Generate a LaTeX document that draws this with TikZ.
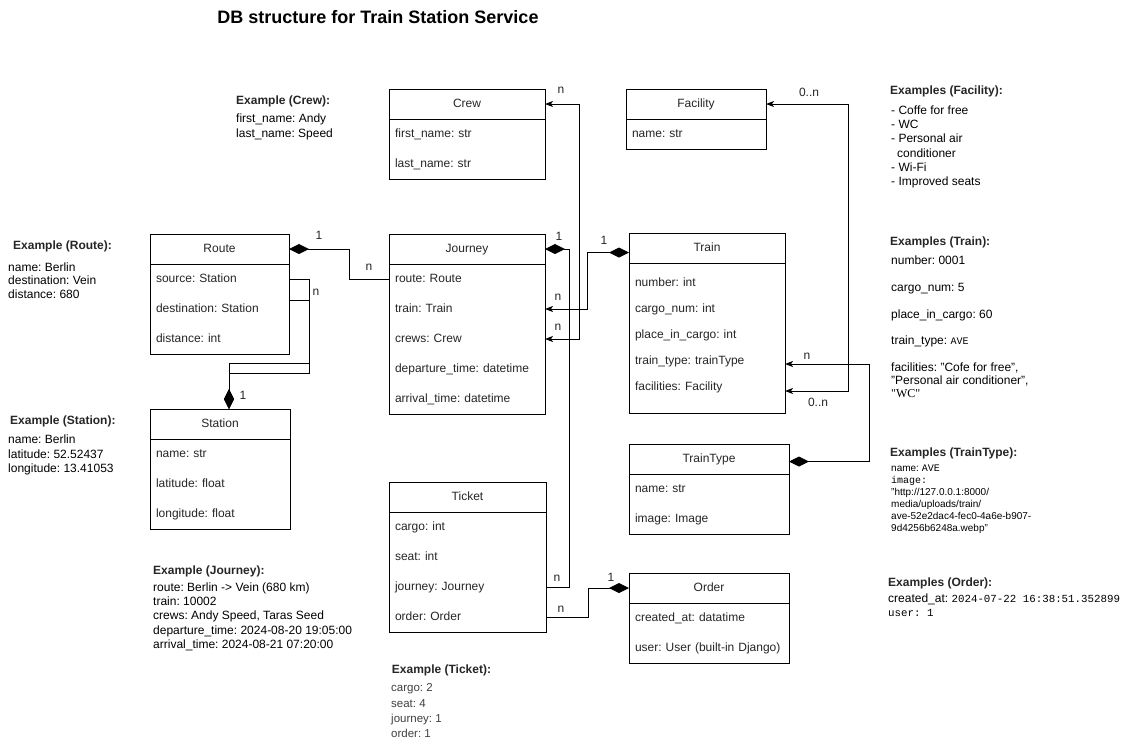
\documentclass[tikz,border=0pt]{standalone}
\usepackage{fontspec}
\setmainfont{Liberation Sans}
\setmonofont{Liberation Mono}
\newfontfamily\quotefont{Liberation Serif}
\frenchspacing
\usetikzlibrary{arrows.meta,positioning}
\tikzset{%
	entity/.style   = {draw, rectangle, line width=1pt, anchor=north west, inner sep=0pt, outer sep=0pt}, % class outline
	header/.style   = {draw, rectangle, line width=1pt, anchor=north, minimum height=30pt, outer sep=0pt, text height=8.6pt, text depth=2.5pt, text=black!85}, % class name
	field/.style    = {rectangle, minimum height=30pt, inner xsep=6pt, inner ysep=0pt, outer sep=0pt, align=left, text height=8.6pt, text depth=2.5pt, text=black!85}, % attribute
	lbl/.style      = {inner sep=0pt, text height=8.6pt, text depth=2.5pt, text=black!85}, % multiplicity
	notehead/.style = {anchor=west, inner sep=0pt, font=\fontsize{12}{14.4}\selectfont\bfseries, text=black!85},
	notebody/.style = {anchor=north west, inner sep=0pt, align=left},
	link/.style     = {line width=1pt},
	dia/.tip        = {Diamond[length=20pt,width=10pt]},
}

\begin{document}
\begin{tikzpicture}[x=1pt,y=-1pt,font=\fontsize{12}{14.4}\selectfont,>={Stealth[length=8pt,width=6pt,inset=2pt]}]
	\path[use as bounding box, fill=white] (0,0) rectangle (1129,745);
	\node[font=\fontsize{18}{21}\selectfont\bfseries] (title) at (378,17) {DB structure for Train Station Service};

	% Crew
	\node[entity, minimum width=156pt, minimum height=90pt] (crew) at (389,89) {};
	\node[header, minimum width=156pt] (crew-h) at (crew.north) {Crew};
	\node[field, text width=144pt, below=0pt of crew-h] (crew-first) {first\_name: str};
	\node[field, text width=144pt, below=0pt of crew-first] (crew-last) {last\_name: str};

	% Facility
	\node[entity, minimum width=140pt, minimum height=60pt] (facility) at (626,89) {};
	\node[header, minimum width=140pt] (facility-h) at (facility.north) {Facility};
	\node[field, text width=128pt, below=0pt of facility-h] (facility-name) {name: str};

	% Route
	\node[entity, minimum width=139pt, minimum height=120pt] (route) at (150,234) {};
	\node[header, minimum width=139pt] (route-h) at (route.north) {Route};
	\node[field, text width=127pt, below=0pt of route-h] (route-source) {source: Station};
	\node[field, text width=127pt, below=0pt of route-source] (route-dest) {destination: Station};
	\node[field, text width=127pt, below=0pt of route-dest] (route-dist) {distance: int};

	% Station
	\node[entity, minimum width=140pt, minimum height=120pt] (station) at (150,409) {};
	\node[header, minimum width=140pt] (station-h) at (station.north) {Station};
	\node[field, text width=128pt, below=0pt of station-h] (station-name) {name: str};
	\node[field, text width=128pt, below=0pt of station-name] (station-lat) {latitude: float};
	\node[field, text width=128pt, below=0pt of station-lat] (station-lon) {longitude: float};

	% Journey
	\node[entity, minimum width=156pt, minimum height=180pt] (journey) at (389,234) {};
	\node[header, minimum width=156pt] (journey-h) at (journey.north) {Journey};
	\node[field, text width=144pt, below=0pt of journey-h] (journey-route) {route: Route};
	\node[field, text width=144pt, below=0pt of journey-route] (journey-train) {train: Train};
	\node[field, text width=144pt, below=0pt of journey-train] (journey-crews) {crews: Crew};
	\node[field, text width=144pt, below=0pt of journey-crews] (journey-dep) {departure\_time: datetime};
	\node[field, text width=144pt, below=0pt of journey-dep] (journey-arr) {arrival\_time: datetime};

	% Train
	\node[entity, minimum width=156pt, minimum height=180pt] (train) at (629,233) {};
	\node[header, minimum width=156pt] (train-h) at (train.north) {Train};
	\node[field, text width=144pt, minimum height=26pt, below=7pt of train-h] (train-num) {number: int};
	\node[field, text width=144pt, minimum height=26pt, below=0pt of train-num] (train-cargo) {cargo\_num: int};
	\node[field, text width=144pt, minimum height=26pt, below=0pt of train-cargo] (train-place) {place\_in\_cargo: int};
	\node[field, text width=144pt, minimum height=26pt, below=0pt of train-place] (train-type) {train\_type: trainType};
	\node[field, text width=144pt, minimum height=26pt, below=0pt of train-type] (train-fac) {facilities: Facility};

	% Ticket
	\node[entity, minimum width=157pt, minimum height=150pt] (ticket) at (389,482) {};
	\node[header, minimum width=157pt] (ticket-h) at (ticket.north) {Ticket};
	\node[field, text width=145pt, below=0pt of ticket-h] (ticket-cargo) {cargo: int};
	\node[field, text width=145pt, below=0pt of ticket-cargo] (ticket-seat) {seat: int};
	\node[field, text width=145pt, below=0pt of ticket-seat] (ticket-journey) {journey: Journey};
	\node[field, text width=145pt, below=0pt of ticket-journey] (ticket-order) {order: Order};

	% TrainType
	\node[entity, minimum width=160pt, minimum height=90pt] (traintype) at (629,444) {};
	\node[header, minimum width=160pt] (traintype-h) at (traintype.north) {TrainType};
	\node[field, text width=148pt, below=0pt of traintype-h] (traintype-name) {name: str};
	\node[field, text width=148pt, below=0pt of traintype-name] (traintype-img) {image: Image};

	% Order
	\node[entity, minimum width=160pt, minimum height=90pt] (order) at (629,573) {};
	\node[header, minimum width=160pt] (order-h) at (order.north) {Order};
	\node[field, text width=148pt, below=0pt of order-h] (order-created) {created\_at: datatime};
	\node[field, text width=148pt, below=0pt of order-created] (order-user) {user: User (built-in Django)};

	% relations
	\draw[link, -dia] (journey-route.west) node[lbl, xshift=-20pt, yshift=12pt] {n} -- ++(-40,0) |- (route-h.east) node[lbl, xshift=30pt, yshift=13pt] {1};
	\draw[link, -dia] (route-source.east) node[lbl, xshift=27pt, yshift=-13pt] {n} -- ++(20,0) -- ++(0,84) -| ([xshift=9pt]station.north) node[lbl, xshift=14pt, yshift=13pt] {1};
	\draw[link, -dia] ([yshift=9pt]route-dest.east) -- ++(20,0) -- ++(0,73) -| ([xshift=9pt]station.north);
	\draw[link, <->] (journey-crews.east) node[lbl, xshift=13pt, yshift=12pt] {n} -- ++(34,0) |- (crew-h.east) node[lbl, xshift=16pt, yshift=14pt] {n};
	\draw[link, <-dia] (journey-train.east) node[lbl, xshift=13pt, yshift=12pt] {n} -- ++(42,0) |- ([yshift=-4.5pt]train-h.west) node[lbl, xshift=-25pt, yshift=11pt] {1};
	\draw[link, -dia] (ticket-journey.east) node[lbl, xshift=11pt, yshift=9pt] {n} -- ++(23,0) |- (journey-h.east) node[lbl, xshift=14pt, yshift=12pt] {1};
	\draw[link, -dia] (ticket-order.east) node[lbl, xshift=15pt, yshift=8pt] {n} -- ++(42,0) |- (order-h.west) node[lbl, xshift=-18pt, yshift=10pt] {1};
	\draw[link, <->] ([yshift=-4pt]train-fac.east) node[lbl, xshift=33pt, yshift=-12pt] {0..n} -- ++(63,0) |- (facility-h.east) node[lbl, xshift=43pt, yshift=11pt] {0..n};
	\draw[link, <-dia] ([yshift=-3pt]train-type.east) node[lbl, xshift=22pt, yshift=8pt] {n} -- ++(84,0) |- ([yshift=-2.5pt]traintype-h.east);

	% examples
	\node[notehead] (crew-ex) at (236,101.7) {Example (Crew):};
	\node[notebody] (crew-exbody) at (236,114) {first\_name: Andy\\last\_name: Speed};
	\node[notehead] (route-ex) at (13,246.7) {Example (Route):};
	\node[notebody, font=\fontsize{12}{13.4}\selectfont] (route-exbody) at (8,262.6) {name: Berlin\\destination: Vein\\distance: 680};
	\node[notehead] (station-ex) at (10,421) {Example (Station):};
	\node[notebody, font=\fontsize{12}{14.2}\selectfont] (station-exbody) at (8,435) {name: Berlin\\latitude: 52.52437\\longitude: 13.41053};
	\node[notehead] (journey-ex) at (153,571) {Example (Journey):};
	\node[notebody, font=\fontsize{12}{14.2}\selectfont] (journey-exbody) at (153,582.6) {route: Berlin -> Vein (680 km)\\train: 10002\\crews: Andy Speed, Taras Seed\\departure\_time: 2024-08-20 19:05:00\\arrival\_time: 2024-08-21 07:20:00};
	\node[notehead] (ticket-ex) at (391.7,670) {Example (Ticket):};
	\node[notebody, font=\fontsize{11.5}{15.2}\selectfont, text=black!75] (ticket-exbody) at (391,683.6) {cargo: 2\\seat: 4\\journey: 1\\order: 1};
	\node[notehead] (facility-ex) at (890,91.7) {Examples (Facility):};
	\node[notebody, font=\fontsize{12}{14.3}\selectfont] (facility-exbody) at (891,105.3) {- Coffe for free\\- WC\\- Personal air\\\hspace*{6pt}conditioner\\- Wi-Fi\\- Improved seats};
	\node[notehead] (train-ex) at (890,242.3) {Examples (Train):};
	\node[notebody, font=\fontsize{12}{13.3}\selectfont] (train-exbody) at (891,256) {number: 0001\\[13.3pt]cargo\_num: 5\\[13.3pt]place\_in\_cargo: 60\\[13.3pt]train\_type: {\ttfamily\fontsize{10}{12}\selectfont AVE}\\[13.3pt]facilities: "Cofe for free",\\"Personal air conditioner",\\{\quotefont "WC"}};
	\node[notehead] (traintype-ex) at (890,453.3) {Examples (TrainType):};
	\node[notebody, font=\fontsize{10}{12}\selectfont] (traintype-exbody) at (891,465) {name: {\ttfamily AVE}\\{\ttfamily image:}\\"http://127.0.0.1:8000/\\media/uploads/train/\\ave-52e2dac4-fec0-4a6e-b907-\\9d4256b6248a.webp"};
	\node[notehead] (order-ex) at (888,583.3) {Examples (Order):};
	\node[notebody, font=\fontsize{12}{14}\selectfont] (order-exbody) at (888,594) {created\_at: {\ttfamily\fontsize{10.8}{14}\selectfont 2024-07-22 16:38:51.352899}\\{\ttfamily\fontsize{10.8}{14}\selectfont user: 1}};
\end{tikzpicture}
\end{document}
